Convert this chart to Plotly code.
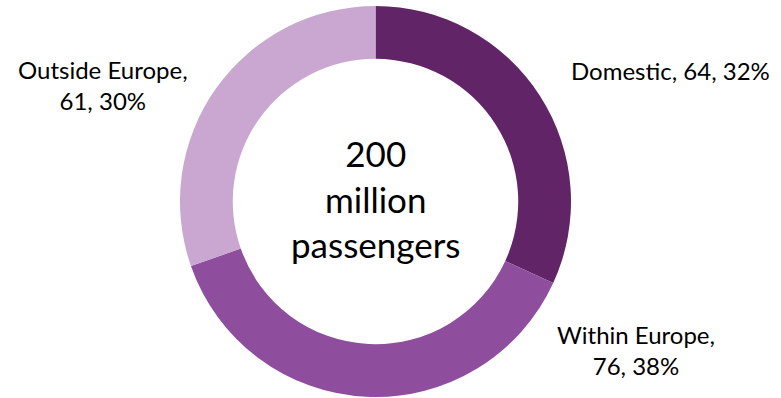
import plotly.graph_objects as go

# Passenger split by market (million passengers)
segments = ["Domestic", "Within Europe", "Outside Europe"]
passengers = [64, 76, 61]
shares = [32, 38, 30]
total_label = "200<br>million<br>passengers"
colors = ["#612467", "#8f4e9d", "#c9a7d1"]

W, H = 781, 398

fig = go.Figure(
    go.Pie(
        labels=segments,
        values=passengers,
        hole=0.73,
        sort=False,
        direction="clockwise",
        rotation=0,
        marker=dict(colors=colors, line=dict(width=0)),
        textinfo="none",
        hoverinfo="label+value+percent",
        domain=dict(x=[180 / W, 571 / W], y=[1 - 397 / H, 1 - 6 / H]),
        showlegend=False,
    )
)

font = dict(family="Lato, 'Open Sans', sans-serif", color="#000000")

# label placements (paper coords) for each segment
label_pos = {
    "Domestic": (670 / W, 1 - 71 / H, "{name}, {v}, {p}%"),
    "Within Europe": (636 / W, 1 - 350 / H, "{name},<br>{v}, {p}%"),
    "Outside Europe": (103 / W, 1 - 85 / H, "{name},<br>{v}, {p}%"),
}
for name, v, p in zip(segments, passengers, shares):
    x, y, tmpl = label_pos[name]
    fig.add_annotation(
        x=x, y=y, xref="paper", yref="paper",
        text=tmpl.format(name=name, v=v, p=p),
        showarrow=False, xanchor="center", yanchor="middle",
        align="center", font=dict(size=24, **font),
    )

fig.add_annotation(
    x=375.5 / W, y=1 - 198 / H, xref="paper", yref="paper",
    text=total_label, showarrow=False, xanchor="center", yanchor="middle",
    align="center", font=dict(size=35, **font),
)

fig.update_layout(
    width=W, height=H,
    margin=dict(l=0, r=0, t=0, b=0),
    paper_bgcolor="white", plot_bgcolor="white",
)

fig.write_html("out.html")
